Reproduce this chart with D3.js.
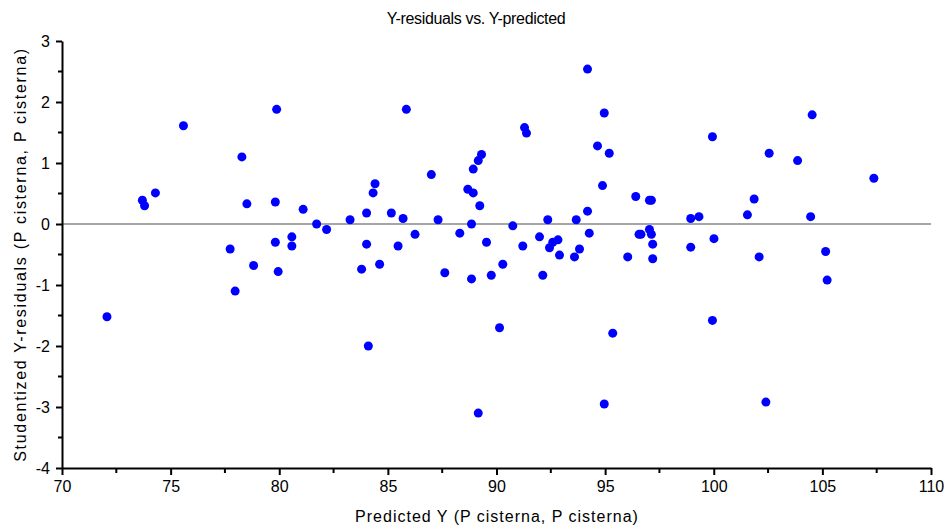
<!DOCTYPE html>
<html>
<head>
<meta charset="utf-8">
<script src="https://cdn.jsdelivr.net/npm/d3@7"></script>
<style>
  body { margin: 0; background: #fff; }
  svg { display: block; }
  text { font-family: Arial, "Liberation Sans", sans-serif; fill: #000; }
</style>
</head>
<body>
<svg id="chart" width="952" height="527"></svg>
<script>
// predicted Y values
const predicted = [
  72.07, 73.7, 73.8, 74.3, 75.59, 78.28, 78.51, 79.82, 79.88, 81.1,
  81.72, 82.18, 83.26, 79.82, 80.58, 80.58, 77.74, 78.82, 77.97, 79.95,
  83.79, 84.02, 84.02, 84.32, 84.41, 85.85, 85.16, 85.47, 85.7, 86.25,
  87.0, 87.31, 88.31, 88.68, 88.93, 88.85, 88.93, 89.16, 89.31, 89.23,
  89.54, 90.75, 91.29, 91.38, 91.21, 91.98, 92.36, 92.44, 92.59, 92.83,
  93.67, 93.82, 94.19, 94.19, 94.27, 94.65, 94.96, 95.19, 94.88, 96.41,
  96.56, 84.62, 84.1, 87.62, 88.85, 89.76, 90.29, 90.14, 89.16, 92.13,
  92.9, 93.59, 95.35, 94.96, 96.04, 97.04, 97.13, 97.04, 96.65, 97.13,
  97.19, 98.94, 99.32, 99.94, 98.94, 100.01, 101.55, 101.86, 102.55, 103.86,
  104.53, 104.46, 107.37, 97.19, 102.09, 105.15, 105.22, 99.94, 102.4
];
// studentized residuals
const residuals = [
  -1.52, 0.39, 0.3, 0.51, 1.61, 1.1, 0.33, 0.36, 1.88, 0.24,
  0.0, -0.09, 0.07, -0.3, -0.21, -0.36, -0.41, -0.68, -1.1, -0.78,
  -0.74, 0.18, -0.33, 0.51, 0.66, 1.88, 0.18, -0.36, 0.09, -0.17,
  0.81, 0.07, -0.15, 0.57, 0.51, 0.0, 0.9, 1.04, 1.14, 0.3,
  -0.3, -0.03, 1.58, 1.49, -0.36, -0.21, 0.07, -0.39, -0.3, -0.26,
  0.07, -0.41, 2.54, 0.21, -0.15, 1.28, 1.82, 1.16, 0.63, 0.45,
  -0.17, -0.66, -2.0, -0.8, -0.9, -0.84, -0.66, -1.7, -3.1, -0.84,
  -0.51, -0.54, -1.79, -2.95, -0.54, 0.39, 0.39, -0.09, -0.17, -0.17,
  -0.33, 0.09, 0.12, 1.43, -0.38, -0.24, 0.15, 0.41, 1.16, 1.04,
  1.79, 0.12, 0.75, -0.57, -0.54, -0.45, -0.92, -1.58, -2.92
];
const xTicks = [70, 75, 80, 85, 90, 95, 100, 105, 110];
const yTicks = [-4, -3, -2, -1, 0, 1, 2, 3];

const svg = d3.select('#chart');
const mLeft = 62, mRight = 931, mTop = 41, mBottom = 468;

const x = d3.scaleLinear().domain([70, 110]).range([mLeft, mRight]);
const y = d3.scaleLinear().domain([-4, 3]).range([mBottom, mTop]);

// title
svg.append('text')
    .attr('x', 476).attr('y', 24)
    .attr('text-anchor', 'middle')
    .attr('font-size', '16px')
    .attr('letter-spacing', '-0.35px')
    .text('Y-residuals vs. Y-predicted');

// zero reference line
svg.append('line')
    .attr('x1', mLeft).attr('x2', mRight)
    .attr('y1', y(0)).attr('y2', y(0))
    .attr('stroke', '#888').attr('stroke-width', 1.5);

// minor ticks
const xMinor = d3.range(72.5, 110, 5);
const yMinor = d3.range(-3.5, 3, 1);

const xAxis = svg.append('g').attr('transform', `translate(0,${mBottom})`);
xAxis.call(d3.axisBottom(x).tickValues(xTicks).tickFormat(d => String(d))
    .tickSize(7).tickPadding(6).tickSizeOuter(0));
xAxis.selectAll('.minor')
    .data(xMinor).enter().append('line')
    .attr('class', 'minor')
    .attr('x1', d => x(d)).attr('x2', d => x(d))
    .attr('y1', 0).attr('y2', 5)
    .attr('stroke', '#000').attr('stroke-width', 2);

const yAxis = svg.append('g').attr('transform', `translate(${mLeft},0)`);
yAxis.call(d3.axisLeft(y).tickValues(yTicks).tickFormat(d => String(d))
    .tickSize(6).tickPadding(6).tickSizeOuter(0));
yAxis.selectAll('.minor')
    .data(yMinor).enter().append('line')
    .attr('class', 'minor')
    .attr('y1', d => y(d)).attr('y2', d => y(d))
    .attr('x1', 0).attr('x2', -4)
    .attr('stroke', '#000').attr('stroke-width', 2);

[xAxis, yAxis].forEach(g => {
    g.select('.domain').attr('stroke', '#000').attr('stroke-width', 2);
    g.selectAll('.tick line').attr('stroke', '#000').attr('stroke-width', 2);
    g.selectAll('.tick text').attr('font-size', '16px')
        .attr('font-family', 'Arial, "Liberation Sans", sans-serif').attr('fill', '#000');
});

// axis labels
svg.append('text')
    .attr('x', 497).attr('y', 522)
    .attr('text-anchor', 'middle')
    .attr('font-size', '16px')
    .attr('letter-spacing', '1px')
    .text('Predicted Y (P cisterna, P cisterna)');

svg.append('text')
    .attr('transform', `translate(26,${(mTop + mBottom) / 2}) rotate(-90)`)
    .attr('text-anchor', 'middle')
    .attr('font-size', '16px')
    .attr('letter-spacing', '1.7px')
    .text('Studentized Y-residuals (P cisterna, P cisterna)');

// points
const pts = predicted.map((p, i) => ({ p, r: residuals[i] }));
svg.append('g').selectAll('circle')
    .data(pts)
    .enter().append('circle')
    .attr('cx', d => x(d.p))
    .attr('cy', d => y(d.r))
    .attr('r', 4.5)
    .attr('fill', '#0000ff');
</script>
</body>
</html>
